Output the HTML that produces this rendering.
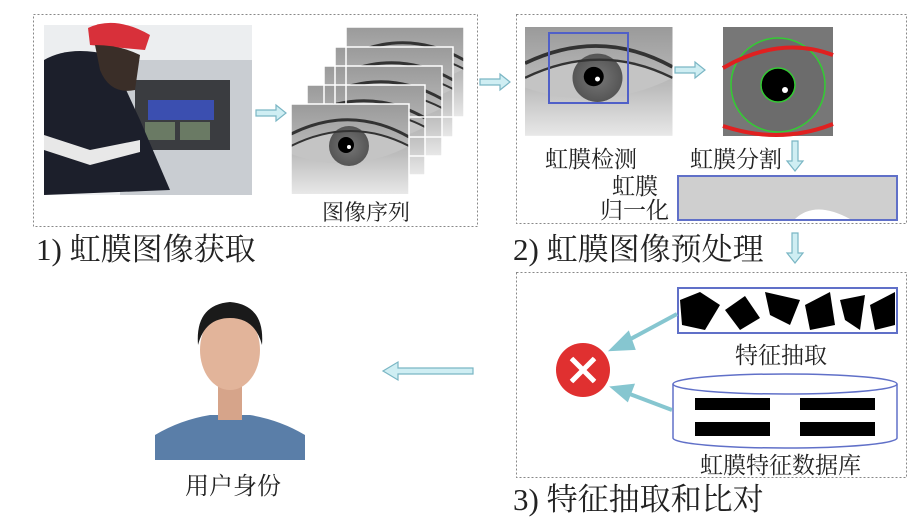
<!DOCTYPE html>
<html><head><meta charset="utf-8"><style>
html,body{margin:0;padding:0;background:#fff}
svg{display:block}
text{font-family:"Liberation Serif","Noto Serif CJK SC",serif;fill:#222}
</style></head><body>
<svg width="918" height="517" viewBox="0 0 918 517" xmlns="http://www.w3.org/2000/svg">
<defs>
<radialGradient id="iris" cx="50%" cy="50%" r="50%"><stop offset="0" stop-color="#777"/><stop offset="1" stop-color="#555"/></radialGradient>
<linearGradient id="eyebg" x1="0" y1="0" x2="0" y2="1"><stop offset="0" stop-color="#9a9a9a"/><stop offset="0.55" stop-color="#bcbcbc"/><stop offset="1" stop-color="#e8e8e8"/></linearGradient>
<clipPath id="ec"><rect width="118" height="90"/></clipPath>
<g id="eye" clip-path="url(#ec)">
<rect width="118" height="90" fill="url(#eyebg)"/>
<path d="M0,30 Q60,0 118,33" stroke="#333" stroke-width="3" fill="none"/>
<path d="M0,42 Q60,12 118,42 Q60,72 0,50Z" fill="#c4c4c4"/>
<circle cx="58" cy="42" r="20" fill="url(#iris)"/>
<circle cx="55" cy="41" r="8" fill="#000"/>
<circle cx="58" cy="43" r="2" fill="#fff"/>
<path d="M0,42 Q60,12 118,42" stroke="#333" stroke-width="2" fill="none"/>
</g>
<g id="arR"><path d="M0,-3 H20 V-8 L30,0 L20,8 V3 H0Z" fill="#cfeef3" stroke="#7ab6c4" stroke-width="1.2"/></g>
</defs>

<rect x="33.5" y="14.5" width="444" height="212" fill="none" stroke="#888" stroke-dasharray="2,2"/>
<rect x="44" y="25" width="208" height="170" fill="#eceef0"/>
<path d="M120,60 H252 V195 H120Z" fill="#c9cdd2"/>
<path d="M135,80 H230 V150 H135Z" fill="#3a3c40"/>
<rect x="148" y="100" width="66" height="20" fill="#3b4fb0"/>
<rect x="145" y="122" width="30" height="18" fill="#6a7a64"/><rect x="180" y="122" width="30" height="18" fill="#6a7a64"/>
<path d="M44,60 Q70,45 110,55 L140,120 L170,190 L44,195Z" fill="#1c1f2b"/>
<path d="M44,135 L90,150 L140,140 L140,152 L90,165 L44,150Z" fill="#e8e8e8"/>
<path d="M88,28 Q115,15 150,35 L145,50 L90,45Z" fill="#d8303a"/>
<path d="M95,45 Q120,45 140,55 L135,90 Q110,95 100,70Z" fill="#3a2e28"/>
<use href="#eye" x="346" y="27"/><use href="#eye" x="335" y="47"/><use href="#eye" x="324" y="66"/><use href="#eye" x="307" y="85"/>
<g stroke="#fff" stroke-width="1.5" fill="none">
<rect x="346" y="27" width="118" height="90"/><rect x="335" y="47" width="118" height="90"/><rect x="324" y="66" width="118" height="90"/><rect x="307" y="85" width="118" height="90"/></g>
<use href="#eye" x="291" y="104"/>
<rect x="291" y="104" width="118" height="91" fill="none" stroke="#fff" stroke-width="1.5"/>
<use href="#arR" x="256" y="113"/>
<text x="322" y="220" font-size="22">图像序列</text>
<text x="36" y="260" font-size="31">1) 虹膜图像获取</text>

<rect x="516.5" y="14.5" width="390" height="209" fill="none" stroke="#888" stroke-dasharray="2,2"/>
<use href="#arR" x="480" y="82"/>
<g transform="translate(525,27) scale(1.25,1.21)"><use href="#eye"/></g>
<rect x="549" y="33" width="79" height="70" fill="none" stroke="#5060c8" stroke-width="2"/>
<use href="#arR" x="675" y="70"/>
<rect x="723" y="27" width="110" height="109" fill="#777"/>
<circle cx="778" cy="85" r="47" fill="#6c6c6c" stroke="#3c3" stroke-width="1.5"/>
<circle cx="778" cy="85" r="17" fill="#000" stroke="#3c3" stroke-width="1.5"/>
<circle cx="785" cy="90" r="3" fill="#fff"/>
<path d="M723,68 Q780,35 833,55" stroke="#e02020" stroke-width="4" fill="none"/>
<path d="M723,126 Q780,145 833,124" stroke="#e02020" stroke-width="4" fill="none"/>
<text x="545" y="167" font-size="23">虹膜检测</text>
<text x="690" y="167" font-size="23">虹膜分割</text>
<g transform="translate(795,141) rotate(90)"><use href="#arR"/></g>
<rect x="678" y="176" width="219" height="44" fill="#cfcfcf" stroke="#6070c8" stroke-width="2"/>
<path d="M795,219 Q815,200 850,219Z" fill="#fff"/>
<text x="612" y="194" font-size="23">虹膜</text>
<text x="600" y="218" font-size="23">归一化</text>
<text x="513" y="260" font-size="31">2) 虹膜图像预处理</text>
<g transform="translate(795,233) rotate(90)"><use href="#arR"/></g>

<rect x="516.5" y="272.5" width="390" height="205" fill="none" stroke="#888" stroke-dasharray="2,2"/>
<rect x="678" y="288" width="219" height="45" fill="#fff" stroke="#6070c8" stroke-width="2"/>
<g fill="#000">
<path d="M680,300 L700,292 L720,305 L705,330 L682,325Z"/><path d="M725,310 L745,296 L760,318 L740,330Z"/>
<path d="M765,292 L800,300 L790,325 L770,315Z"/><path d="M805,305 L830,292 L835,325 L810,330Z"/>
<path d="M840,300 L865,295 L860,330 L845,320Z"/><path d="M870,305 L895,292 L895,325 L875,330Z"/>
</g>
<text x="735" y="363" font-size="23">特征抽取</text>
<path d="M673,384 V438 A112,10 0 0 0 897,438 V384" fill="#fff" stroke="#6070c8" stroke-width="1.5"/>
<ellipse cx="785" cy="384" rx="112" ry="10" fill="#fff" stroke="#6070c8" stroke-width="1.5"/>
<g fill="#000">
<rect x="695" y="398" width="75" height="12"/><rect x="800" y="398" width="75" height="12"/>
<rect x="695" y="422" width="75" height="14"/><rect x="800" y="422" width="75" height="14"/>
</g>
<text x="700" y="473" font-size="23">虹膜特征数据库</text>
<circle cx="583" cy="370" r="27" fill="#e03030"/>
<g stroke="#fff" stroke-width="5"><line x1="570" y1="357" x2="596" y2="383"/><line x1="596" y1="357" x2="570" y2="383"/></g>
<circle cx="583" cy="370" r="18" fill="none" stroke="#e03030" stroke-width="3"/>
<g stroke="#86c6d0" stroke-width="4" fill="#86c6d0">
<line x1="677" y1="314" x2="625" y2="342"/><path d="M613,349 L628,334 L633,348Z"/>
<line x1="672" y1="410" x2="627" y2="393"/><path d="M614,388 L632,386 L627,399Z"/>
</g>
<text x="513" y="510" font-size="31">3) 特征抽取和比对</text>

<path d="M473,368 H398 V362 L383,371 L398,380 V374 H473Z" fill="#cfeef3" stroke="#7ab6c4" stroke-width="1.2"/>

<rect x="155" y="290" width="150" height="170" fill="#fff"/>
<path d="M155,460 V435 Q180,420 210,415 H250 Q280,420 305,435 V460Z" fill="#5a7ea8"/>
<rect x="218" y="385" width="24" height="35" fill="#d6a48a"/>
<ellipse cx="230" cy="350" rx="30" ry="40" fill="#e2b49a"/>
<path d="M198,345 Q195,305 230,302 Q265,305 262,345 Q255,318 230,318 Q205,318 198,345Z" fill="#1a1a1a"/>
<text x="185" y="494" font-size="24">用户身份</text>
</svg>
</body></html>
